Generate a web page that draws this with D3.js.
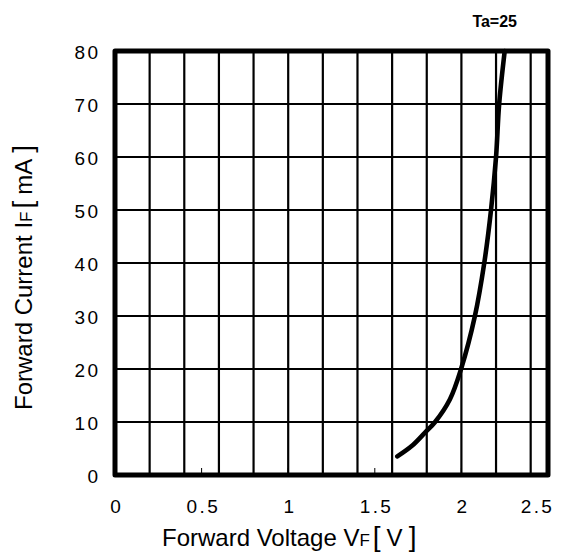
<!DOCTYPE html>
<html>
<head>
<meta charset="utf-8">
<script src="https://cdn.jsdelivr.net/npm/d3@7"></script>
<style>
  body { margin: 0; background: #fff; }
  svg { display: block; font-family: "Liberation Sans", Arial, sans-serif; }
</style>
</head>
<body>
<svg id="chart" width="569" height="556"></svg>
<script>
// Forward voltage (V) vs forward current (mA)
const voltage = [1.63, 1.713, 1.79, 1.848, 1.934, 1.998, 2.078, 2.132, 2.171, 2.20, 2.218, 2.25];
const current = [3.5, 5.45, 8.0, 10, 14.3, 20, 30, 40, 50, 60, 70, 80];

const xTicks = [0, 0.5, 1, 1.5, 2, 2.5];
const yTicks = [0, 10, 20, 30, 40, 50, 60, 70, 80];
const xGrid = [0.2, 0.4, 0.6, 0.8, 1.0, 1.2, 1.4, 1.6, 1.8, 2.0, 2.2, 2.4];

const width = 569;
const height = 556;
const margin = { top: 51, right: 21, bottom: 81, left: 115 };
const font = '"Liberation Sans", Arial, sans-serif';

const svg = d3.select('#chart');

const x = d3.scaleLinear()
  .domain([0, 2.5])
  .range([margin.left, width - margin.right]);

const y = d3.scaleLinear()
  .domain([0, 80])
  .range([height - margin.bottom, margin.top]);

// Grid
svg.append('g')
  .selectAll('line')
  .data(xGrid)
  .join('line')
  .attr('x1', d => x(d)).attr('x2', d => x(d))
  .attr('y1', y(80)).attr('y2', y(0))
  .attr('stroke', '#000')
  .attr('stroke-width', 2.2);

svg.append('g')
  .selectAll('line')
  .data(yTicks.slice(1, -1))
  .join('line')
  .attr('x1', x(0)).attr('x2', x(2.5))
  .attr('y1', d => y(d)).attr('y2', d => y(d))
  .attr('stroke', '#000')
  .attr('stroke-width', 2.2);

// small inner ticks on the bottom edge
svg.append('g')
  .selectAll('line')
  .data(xTicks)
  .join('line')
  .attr('x1', d => x(d)).attr('x2', d => x(d))
  .attr('y1', y(0)).attr('y2', y(0) - 7)
  .attr('stroke', '#000')
  .attr('stroke-width', 1);

// Frame
svg.append('rect')
  .attr('x', x(0))
  .attr('y', y(80))
  .attr('width', x(2.5) - x(0))
  .attr('height', y(0) - y(80))
  .attr('fill', 'none')
  .attr('stroke', '#000')
  .attr('stroke-width', 5)
  .attr('stroke-linejoin', 'round');

// Tick labels
const xAxis = d3.axisBottom(x)
  .tickValues(xTicks)
  .tickFormat(d3.format('~g'))
  .tickSize(0)
  .tickPadding(0);

svg.append('g')
  .attr('transform', `translate(0,${y(0)})`)
  .call(xAxis)
  .call(g => g.select('.domain').remove())
  .selectAll('text')
  .attr('y', 38)
  .attr('dy', 0)
  .attr('dx', d => d === 2.5 ? -11 : 1.2) // last label pulled in from the page edge
  .attr('font-size', 19)
  .attr('letter-spacing', 2.4)
  .attr('font-family', font)
  .attr('fill', '#000');

const yAxis = d3.axisLeft(y)
  .tickValues(yTicks)
  .tickSize(0)
  .tickPadding(17);

svg.append('g')
  .attr('transform', `translate(${x(0)},0)`)
  .call(yAxis)
  .call(g => g.select('.domain').remove())
  .selectAll('text')
  .attr('dy', '0.38em')
  .attr('dx', 2.4)
  .attr('font-size', 19)
  .attr('letter-spacing', 2.4)
  .attr('font-family', font)
  .attr('fill', '#000');

// Curve
const pts = voltage.map((v, i) => [v, current[i]]);
const line = d3.line()
  .x(d => x(d[0]))
  .y(d => y(d[1]))
  .curve(d3.curveCatmullRom.alpha(0.5));

svg.append('path')
  .datum(pts)
  .attr('fill', 'none')
  .attr('stroke', '#000')
  .attr('stroke-width', 4.6)
  .attr('stroke-linecap', 'round')
  .attr('d', line);

// Axis titles
function title(sel, main, unit) {
  sel.append('tspan').text(main);
  sel.append('tspan').attr('font-size', 17).text('F');
  sel.append('tspan').attr('dx', 3).attr('font-size', 28).text('[');
  sel.append('tspan').attr('dx', 6).text(unit);
  sel.append('tspan').attr('dx', 6).attr('font-size', 28).text(']');
}

svg.append('text')
  .attr('x', 162)
  .attr('y', 546)
  .attr('font-size', 24)
  .attr('fill', '#000')
  .call(title, 'Forward Voltage V', 'V');

svg.append('text')
  .attr('transform', `translate(32,410) rotate(-90)`)
  .attr('font-size', 24)
  .attr('fill', '#000')
  .call(title, 'Forward Current I', 'mA');

svg.append('text')
  .attr('x', 517)
  .attr('y', 27)
  .attr('text-anchor', 'end')
  .attr('font-size', 16)
  .attr('font-weight', 'bold')
  .attr('fill', '#000')
  .text('Ta=25');
</script>
</body>
</html>
